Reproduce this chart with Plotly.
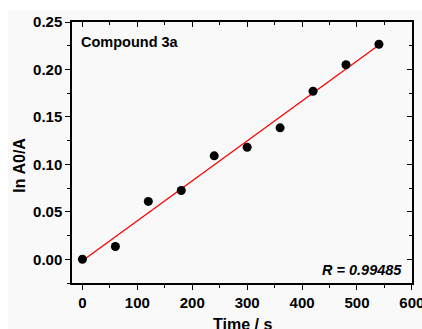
import numpy as np
import plotly.graph_objects as go

time_s = [0, 60, 120, 180, 240, 300, 360, 420, 480, 540]
ln_a0_a = [0.000, 0.0135, 0.061, 0.0725, 0.109, 0.118, 0.1385, 0.177, 0.205, 0.2265]
x_range = [-19, 600.2]
y_range = [-0.025, 0.25]
x_ticks = [0, 100, 200, 300, 400, 500, 600]
y_ticks = [0.00, 0.05, 0.10, 0.15, 0.20, 0.25]
label_text = "Compound 3a"
r_text = "<i>R = 0.99485</i>"
x_title = "Time / s"
y_title = "ln A0/A"

slope, intercept = np.polyfit(time_s, ln_a0_a, 1)
fit_x = [time_s[0], time_s[-1]]
fit_y = [slope * v + intercept for v in fit_x]

FONT = "Liberation Sans, Arial, sans-serif"
BG = "#f9f9f9"

fig = go.Figure()
fig.add_trace(go.Scatter(x=fit_x, y=fit_y, mode="lines",
                         line=dict(color="#ff0000", width=1.3), showlegend=False))
fig.add_trace(go.Scatter(x=time_s, y=ln_a0_a, mode="markers",
                         marker=dict(color="black", size=9), showlegend=False))

axis_common = dict(showgrid=False, zeroline=False, showline=True, linecolor="black",
                   linewidth=1.5, tickcolor="black", tickwidth=1.2,
                   ticklabeloverflow="allow",
                   tickfont=dict(family=FONT, size=15, color="black", weight="bold"))

fig.update_layout(
    width=422, height=329,
    margin=dict(l=72, r=10, t=22, b=46, autoexpand=False),
    paper_bgcolor="white", plot_bgcolor=BG,
    font=dict(family=FONT, color="black"),
    xaxis=dict(range=x_range, tickvals=x_ticks, ticks="outside", ticklen=5,
               minor=dict(ticks="outside", ticklen=3, dtick=50, tick0=0, tickcolor="black"),
               **axis_common),
    yaxis=dict(range=y_range, tickvals=y_ticks, tickformat=".2f", ticks="outside", ticklen=5,
               minor=dict(ticks="outside", ticklen=3, dtick=0.025, tick0=0, tickcolor="black"),
               **axis_common),
    xaxis2=dict(range=x_range, overlaying="x", side="top", tickvals=x_ticks, ticks="inside",
                ticklen=5, showticklabels=False,
                minor=dict(ticks="inside", ticklen=3, dtick=50, tick0=0, tickcolor="black"),
                **axis_common),
    yaxis2=dict(range=y_range, overlaying="y", side="right", tickvals=y_ticks, ticks="inside",
                ticklen=5, showticklabels=False,
                minor=dict(ticks="inside", ticklen=3, dtick=0.025, tick0=0, tickcolor="black"),
                **axis_common),
    shapes=[dict(type="rect", xref="paper", yref="paper", x0=-0.188, x1=1.04,
                 y0=-0.18, y1=1.045, fillcolor=BG, line=dict(width=0), layer="below")],
    annotations=[
        dict(text="<b>" + label_text + "</b>", xref="paper", yref="paper", x=0.022, y=0.923,
             xanchor="left", yanchor="middle", showarrow=False,
             font=dict(family=FONT, size=14.5, color="black")),
        dict(text="<b>" + r_text + "</b>", xref="paper", yref="paper", x=0.975, y=0.05,
             xanchor="right", yanchor="middle", showarrow=False,
             font=dict(family=FONT, size=14.5, color="black")),
        dict(text="<b>" + y_title + "</b>", xref="paper", yref="paper", x=-0.157, y=0.452,
             xanchor="center", yanchor="middle", textangle=-90, showarrow=False,
             font=dict(family=FONT, size=16, color="black")),
        dict(text="<b>" + x_title + "</b>", xref="paper", yref="paper", x=0.5, y=-0.16,
             xanchor="center", yanchor="middle", showarrow=False,
             font=dict(family=FONT, size=16, color="black")),
    ],
)
# invisible trace so the mirror axes are drawn
fig.add_trace(go.Scatter(x=[time_s[0]], y=[ln_a0_a[0]], xaxis="x2", yaxis="y2",
                         mode="markers", marker=dict(opacity=0), showlegend=False, hoverinfo="skip"))

fig.write_html("out.html")
